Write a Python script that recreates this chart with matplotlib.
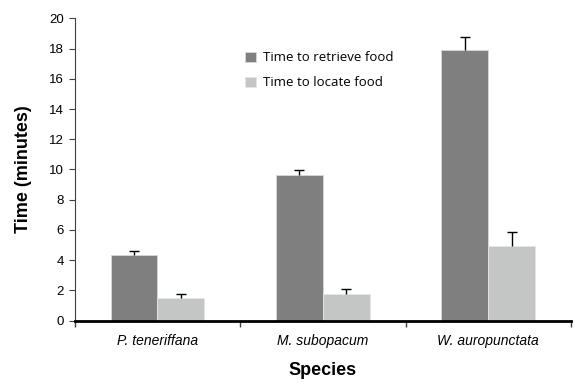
import numpy as np
import matplotlib.pyplot as plt

species = ['P. teneriffana', 'M. subopacum', 'W. auropunctata']
retrieve = [4.35, 9.64, 17.88]
retrieve_err = [0.28, 0.35, 0.92]
locate = [1.52, 1.75, 4.96]
locate_err = [0.27, 0.37, 0.91]

plt.rcParams['font.family'] = ['Liberation Sans', 'DejaVu Sans']

fig = plt.figure(figsize=(5.75, 3.83), dpi=100)
ax = fig.add_axes([0.130, 0.163, 0.863, 0.789])

x = np.arange(len(species))
w = 0.283
ax.bar(x - w / 2, retrieve, w, color='#7f7f7f', edgecolor='#d9d9d9', linewidth=0.6,
       label='Time to retrieve food', zorder=2)
ax.bar(x + w / 2, locate, w, color='#c4c6c5', edgecolor='#e6e6e6', linewidth=0.6,
       label='Time to locate food', zorder=2)

# only the upper half of each error bar, as in the original
for xs, vals, errs in [(x - w / 2, retrieve, retrieve_err), (x + w / 2, locate, locate_err)]:
    eb = ax.errorbar(xs, vals, yerr=[np.zeros(3), errs], fmt='none',
                     ecolor='black', elinewidth=1, capsize=3.5, capthick=1, zorder=3)
    eb[1][0].set_visible(False)

ax.set_xlim(-0.5, 2.5)
ax.set_ylim(0, 20)
ax.set_yticks(range(0, 21, 2))
ax.set_xticks([-0.5, 0.5, 1.5, 2.5])
ax.set_xticklabels([])
ax.set_xticks(x, minor=True)
ax.set_xticklabels(species, minor=True, fontstyle='italic', fontsize=10)
ax.tick_params(axis='x', which='minor', length=0, pad=10)
ax.tick_params(axis='x', which='major', length=4, width=1, color='#404040')
ax.tick_params(axis='y', length=4, width=0.8, color='#404040', labelsize=9.5, pad=4)

for s in ['top', 'right']:
    ax.spines[s].set_visible(False)
ax.spines['left'].set_color('#404040')
ax.spines['left'].set_linewidth(0.8)
ax.spines['bottom'].set_color('black')
ax.spines['bottom'].set_linewidth(2)

ax.set_xlabel('Species', fontsize=13, fontweight='bold', labelpad=10)
ax.set_ylabel('Time (minutes)', fontsize=13, fontweight='bold', labelpad=12)

leg = ax.legend(loc='upper left', bbox_to_anchor=(0.32, 0.93), frameon=False,
                prop={'family': 'Open Sans', 'size': 9.5}, handlelength=0.8,
                handleheight=0.8, handletextpad=0.5, labelspacing=0.9)

fig.savefig('out.png', dpi=100)
